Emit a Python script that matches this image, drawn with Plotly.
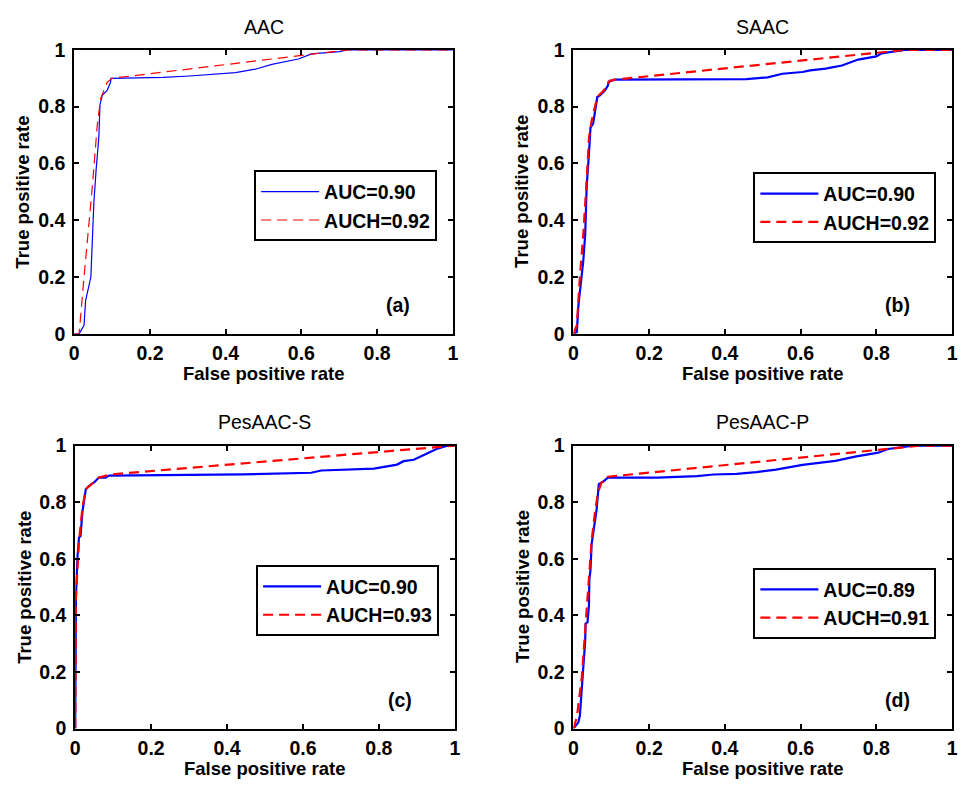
import plotly.graph_objects as go

# ---- panel metadata -------------------------------------------------------
titles = ["AAC", "SAAC", "PesAAC-S", "PesAAC-P"]
panel_tags = ["(a)", "(b)", "(c)", "(d)"]
auc_vals = [0.90, 0.90, 0.90, 0.89]
auch_vals = [0.92, 0.92, 0.93, 0.91]
tick_vals = [0, 0.2, 0.4, 0.6, 0.8, 1]
tick_text = ["0", "0.2", "0.4", "0.6", "0.8", "1"]

# ---- ROC curves (false positive rate, true positive rate) ----------------
aac_fpr = [0, 0.013, 0.026, 0.03, 0.044, 0.052, 0.058, 0.065, 0.068, 0.074, 0.087,
           0.096, 0.097, 0.235, 0.305, 0.426, 0.478, 0.522, 0.592, 0.627, 0.70, 0.722, 1.0]
aac_tpr = [0, 0, 0.03, 0.116, 0.2, 0.463, 0.58, 0.69, 0.806, 0.84, 0.857,
           0.886, 0.9, 0.903, 0.908, 0.92, 0.932, 0.949, 0.968, 0.986, 0.994, 1.0, 1.0]
aac_hull_fpr = [0, 0.013, 0.026, 0.035, 0.048, 0.061, 0.07, 0.087, 0.1, 0.722, 1.0]
aac_hull_tpr = [0, 0.0, 0.2, 0.326, 0.52, 0.737, 0.829, 0.886, 0.9, 1.0, 1.0]

saac_fpr = [0, 0.009, 0.013, 0.022, 0.026, 0.031, 0.035, 0.041, 0.045, 0.052, 0.057,
            0.063, 0.07, 0.083, 0.091, 0.093, 0.109, 0.326, 0.457, 0.513, 0.552, 0.605,
            0.625, 0.666, 0.709, 0.752, 0.80, 0.814, 0.875, 1.0]
saac_tpr = [0, 0.006, 0.098, 0.2, 0.257, 0.349, 0.52, 0.635, 0.726, 0.74, 0.783,
            0.834, 0.84, 0.857, 0.874, 0.888, 0.895, 0.897, 0.897, 0.903, 0.916, 0.922,
            0.928, 0.934, 0.945, 0.966, 0.977, 0.988, 1.0, 1.0]
saac_hull_fpr = [0, 0.009, 0.017, 0.026, 0.035, 0.041, 0.048, 0.063, 0.08, 0.096, 0.109, 0.875, 1.0]
saac_hull_tpr = [0, 0.03, 0.2, 0.349, 0.543, 0.69, 0.75, 0.834, 0.857, 0.891, 0.895, 1.0, 1.0]

pess_fpr = [0, 0.002, 0.006, 0.01, 0.014, 0.019, 0.028, 0.036, 0.049, 0.0625, 0.08,
            0.089, 0.44, 0.622, 0.648, 0.787, 0.848, 0.865, 0.892, 0.917, 0.952, 0.978, 0.991, 1.0]
pess_tpr = [0, 0.468, 0.606, 0.675, 0.68, 0.766, 0.846, 0.857, 0.869, 0.887, 0.887,
            0.894, 0.898, 0.904, 0.912, 0.919, 0.933, 0.945, 0.95, 0.967, 0.988, 0.999, 1.0, 1.0]
pess_hull_fpr = [0, 0.002, 0.01, 0.019, 0.028, 0.0625, 0.093, 1.0]
pess_hull_tpr = [0, 0.47, 0.66, 0.78, 0.846, 0.887, 0.898, 1.0]

pesp_fpr = [0, 0.013, 0.017, 0.022, 0.026, 0.031, 0.032, 0.037, 0.041, 0.042, 0.045,
            0.048, 0.057, 0.061, 0.067, 0.078, 0.091, 0.222, 0.326, 0.37, 0.431, 0.483,
            0.535, 0.605, 0.692, 0.744, 0.805, 0.831, 0.892, 0.918, 1.0]
pesp_tpr = [0, 0.022, 0.045, 0.125, 0.216, 0.308, 0.371, 0.375, 0.434, 0.526, 0.56,
            0.652, 0.743, 0.772, 0.864, 0.872, 0.887, 0.887, 0.892, 0.898, 0.90, 0.906,
            0.915, 0.932, 0.946, 0.961, 0.975, 0.988, 0.999, 1.0, 1.0]
pesp_hull_fpr = [0, 0.009, 0.022, 0.031, 0.039, 0.048, 0.057, 0.065, 0.074, 0.091, 0.918, 1.0]
pesp_hull_tpr = [0, 0.04, 0.18, 0.35, 0.515, 0.663, 0.766, 0.835, 0.869, 0.89, 1.0, 1.0]

curves = [
    (aac_fpr, aac_tpr, aac_hull_fpr, aac_hull_tpr),
    (saac_fpr, saac_tpr, saac_hull_fpr, saac_hull_tpr),
    (pess_fpr, pess_tpr, pess_hull_fpr, pess_hull_tpr),
    (pesp_fpr, pesp_tpr, pesp_hull_fpr, pesp_hull_tpr),
]
line_widths = [1.2, 2.2, 2.2, 2.2]

# ---- layout geometry (pixels in a 964 x 794 page) ---------------------------
W, H = 964, 794
x_px = [(70, 453), (575, 958), (71, 455), (575, 958)]
y_px = [(40, 332), (40, 332), (447, 738), (447, 738)]
legend_px = [(252, 164), (757, 166), (254, 570), (757, 573)]

FONT = "Liberation Sans, Arial, Helvetica, sans-serif"
TICK_SIZE = 19.5
LABEL_SIZE = 18.5
TITLE_SIZE = 19.5

fig = go.Figure()
layout = dict(
    width=W, height=H,
    margin=dict(l=0, r=0, t=0, b=0),
    paper_bgcolor="white", plot_bgcolor="white",
    font=dict(family=FONT, color="black"),
    annotations=[],
)

for i in range(4):
    n = "" if i == 0 else str(i + 1)
    xa, ya = "x" + n, "y" + n
    leg = "legend" + n
    fpr, tpr, hfpr, htpr = curves[i]
    lw = line_widths[i]

    fig.add_trace(go.Scatter(
        x=fpr, y=tpr, mode="lines", xaxis=xa, yaxis=ya, legend=leg,
        name=f"AUC={auc_vals[i]:.2f}",
        line=dict(color="#0000FF", width=lw),
    ))
    fig.add_trace(go.Scatter(
        x=hfpr, y=htpr, mode="lines", xaxis=xa, yaxis=ya, legend=leg,
        name=f"AUCH={auch_vals[i]:.2f}",
        line=dict(color="#FF0000", width=lw, dash="10px,6px"),
    ))

    x0, x1 = x_px[i]
    y0, y1 = y_px[i]
    axis_common = dict(
        range=[0, 1], tickvals=tick_vals, ticktext=tick_text,
        ticks="inside", ticklen=5, tickwidth=1.5, tickcolor="black",
        showline=True, linecolor="black", linewidth=2, mirror="ticks",
        showgrid=False, zeroline=False, fixedrange=True,
        tickfont=dict(family=FONT, size=TICK_SIZE, color="black", weight="bold"),
    )
    layout["xaxis" + n] = dict(axis_common, domain=[x0 / W, x1 / W],
                               anchor=ya, ticklabelstandoff=1)
    layout["yaxis" + n] = dict(axis_common, domain=[1 - y1 / H, 1 - y0 / H],
                               anchor=xa, ticklabelstandoff=3)

    lx, ly = legend_px[i]
    layout[leg] = dict(
        x=lx / W, y=1 - ly / H, xanchor="left", yanchor="top",
        bgcolor="white", bordercolor="black", borderwidth=2,
        font=dict(family=FONT, size=TICK_SIZE, color="black", weight="bold"),
        itemwidth=58, tracegroupgap=0,
    )

    cx = (x0 + x1) / 2
    # panel title
    layout["annotations"].append(dict(
        text=titles[i], xref="paper", yref="paper",
        x=cx / W, y=1 - (y0 - 24) / H, showarrow=False,
        xanchor="center", yanchor="middle",
        font=dict(family=FONT, size=TITLE_SIZE, color="black"),
    ))
    # x-axis title
    layout["annotations"].append(dict(
        text="False positive rate", xref="paper", yref="paper",
        x=cx / W, y=1 - (y1 + 41) / H, showarrow=False,
        xanchor="center", yanchor="middle",
        font=dict(family=FONT, size=LABEL_SIZE, color="black", weight="bold"),
    ))
    # y-axis title
    layout["annotations"].append(dict(
        text="True positive rate", xref="paper", yref="paper",
        x=(x0 - 52) / W, y=1 - ((y0 + y1) / 2) / H, showarrow=False,
        xanchor="center", yanchor="middle", textangle=-90,
        font=dict(family=FONT, size=LABEL_SIZE, color="black", weight="bold"),
    ))
    # panel tag
    layout["annotations"].append(dict(
        text=panel_tags[i], xref=xa + " domain", yref=ya + " domain",
        x=0.856, y=0.1, showarrow=False,
        xanchor="center", yanchor="middle",
        font=dict(family=FONT, size=TICK_SIZE, color="black", weight="bold"),
    ))

fig.update_layout(**layout)
fig.write_html("out.html")
